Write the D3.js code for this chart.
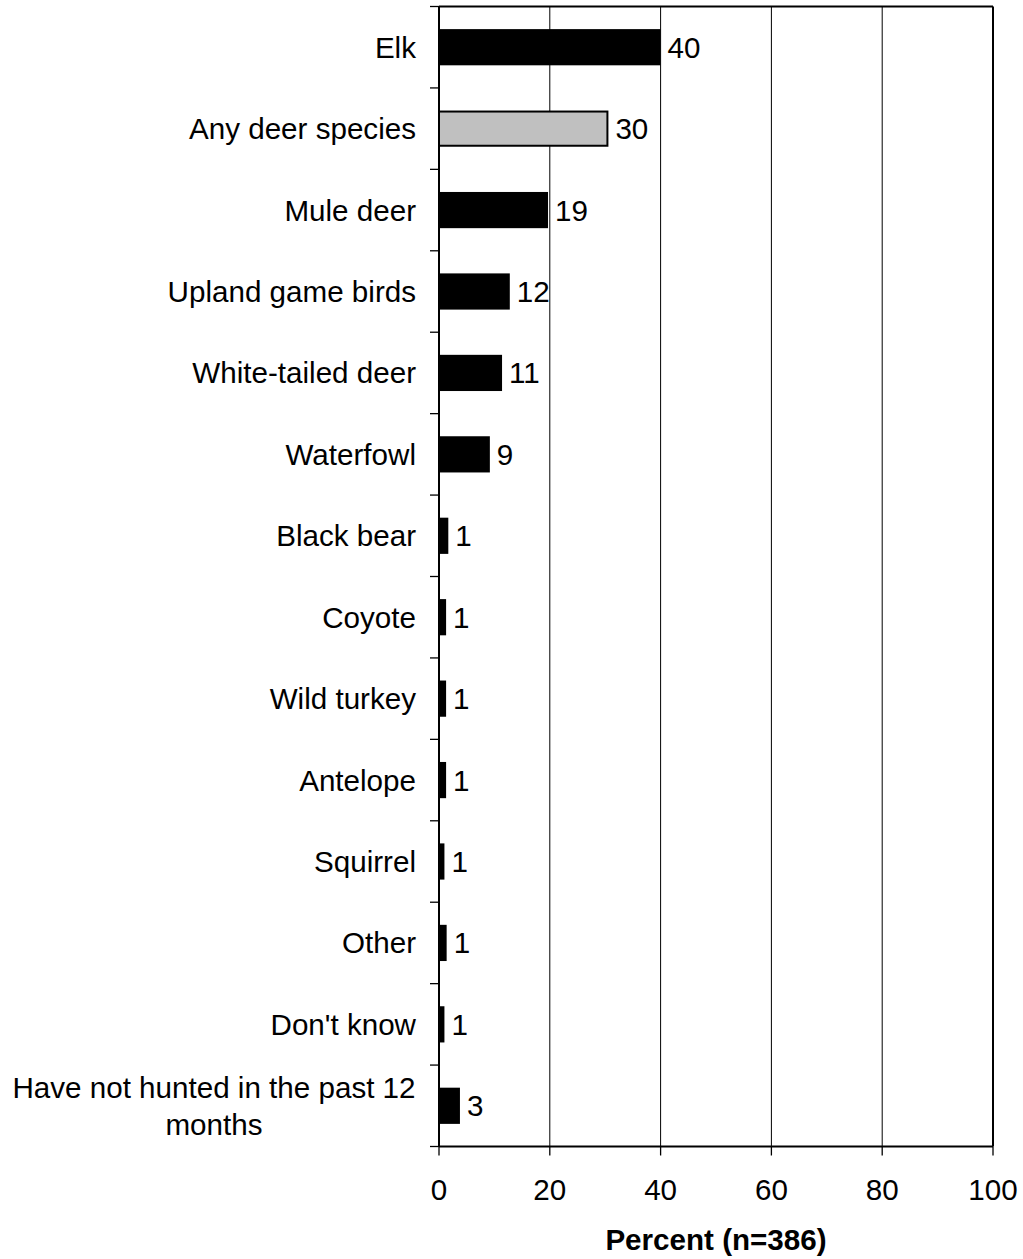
<!DOCTYPE html>
<html>
<head>
<meta charset="utf-8">
<script src="https://cdn.jsdelivr.net/npm/d3@7"></script>
<style>
  html, body { margin: 0; padding: 0; background: #fff; }
  svg { display: block; font-family: "Liberation Sans", Arial, sans-serif; }
</style>
</head>
<body>
<svg id="chart" width="1023" height="1259"></svg>
<script>
const categories = ["Elk", "Any deer species", "Mule deer", "Upland game birds", "White-tailed deer",
  "Waterfowl", "Black bear", "Coyote", "Wild turkey", "Antelope", "Squirrel", "Other", "Don't know",
  "Have not hunted in the past 12 months"];
const values = [39.8, 30.4, 19.5, 12.6, 11.2, 9.0, 1.5, 1.1, 1.1, 1.1, 0.8, 1.2, 0.8, 3.6];
const valueLabels = ["40", "30", "19", "12", "11", "9", "1", "1", "1", "1", "1", "1", "1", "3"];
const highlighted = ["Any deer species"];
const xTicks = [0, 20, 40, 60, 80, 100];
const xTitle = "Percent (n=386)";

(function () {
const svg = d3.select("#chart");
const pLeft = 439, pRight = 993, pTop = 6.5, pBottom = 1146.5;
const fs = 29.6;
const base = 10.5;

const x = d3.scaleLinear().domain([0, 100]).range([pLeft, pRight]);
const y = d3.scaleBand().domain(categories).range([pTop, pBottom]).paddingInner(0.58).paddingOuter(0.29);

// gridlines
svg.append("g").selectAll("line").data(xTicks.filter(t => t > 0 && t < 100)).join("line")
  .attr("x1", d => x(d)).attr("x2", d => x(d)).attr("y1", pTop).attr("y2", pBottom)
  .attr("stroke", "#000").attr("stroke-width", 1);

// frame top/right
svg.append("line").attr("x1", pLeft).attr("x2", pRight).attr("y1", pTop).attr("y2", pTop)
  .attr("stroke", "#000").attr("stroke-width", 2);
svg.append("line").attr("x1", pRight).attr("x2", pRight).attr("y1", pTop).attr("y2", pBottom)
  .attr("stroke", "#000").attr("stroke-width", 2);

// bars
svg.append("g").selectAll("rect").data(categories).join("rect")
  .attr("x", x(0))
  .attr("y", d => y(d))
  .attr("width", (d, i) => x(values[i]) - x(0))
  .attr("height", y.bandwidth())
  .attr("fill", d => highlighted.includes(d) ? "#c0c0c0" : "#000")
  .attr("stroke", "#000").attr("stroke-width", 2);

// value labels
svg.append("g").selectAll("text").data(categories).join("text")
  .attr("x", (d, i) => x(values[i]) + 8)
  .attr("y", d => y(d) + y.bandwidth() / 2 + base)
  .attr("font-size", fs).attr("fill", "#000")
  .text((d, i) => valueLabels[i]);

// y axis line and ticks
svg.append("line").attr("x1", pLeft).attr("x2", pLeft).attr("y1", pTop).attr("y2", pBottom)
  .attr("stroke", "#000").attr("stroke-width", 2);
const boundaries = categories.map(c => y(c) - y.step() * y.paddingInner() / 2).concat([pBottom]);
boundaries[0] = pTop;
svg.append("g").selectAll("line").data(boundaries).join("line")
  .attr("x1", pLeft - 9).attr("x2", pLeft).attr("y1", d => d).attr("y2", d => d)
  .attr("stroke", "#000").attr("stroke-width", 1.3);

// category labels
const labelRight = 416;
categories.forEach(c => {
  const cy = y(c) + y.bandwidth() / 2;
  if (c.length > 30) {
    const lines = ["Have not hunted in the past 12", "months"];
    const cx = 214;
    lines.forEach((ln, k) => {
      svg.append("text").attr("x", cx).attr("y", cy + base + (k - 0.5) * 37)
        .attr("text-anchor", "middle").attr("font-size", fs).attr("fill", "#000").text(ln);
    });
  } else {
    svg.append("text").attr("x", labelRight).attr("y", cy + base)
      .attr("text-anchor", "end").attr("font-size", fs).attr("fill", "#000").text(c);
  }
});

// x axis
svg.append("line").attr("x1", pLeft).attr("x2", pRight).attr("y1", pBottom).attr("y2", pBottom)
  .attr("stroke", "#000").attr("stroke-width", 2);
svg.append("g").selectAll("line").data(xTicks).join("line")
  .attr("x1", d => x(d)).attr("x2", d => x(d)).attr("y1", pBottom).attr("y2", pBottom + 9)
  .attr("stroke", "#000").attr("stroke-width", 1.3);
svg.append("g").selectAll("text").data(xTicks).join("text")
  .attr("x", d => x(d)).attr("y", 1200)
  .attr("text-anchor", "middle").attr("font-size", fs).attr("fill", "#000")
  .text(d => d);

svg.append("text").attr("x", (pLeft + pRight) / 2).attr("y", 1250)
  .attr("text-anchor", "middle").attr("font-size", fs).attr("font-weight", "bold")
  .attr("fill", "#000").text(xTitle);
})();
</script>
</body>
</html>
